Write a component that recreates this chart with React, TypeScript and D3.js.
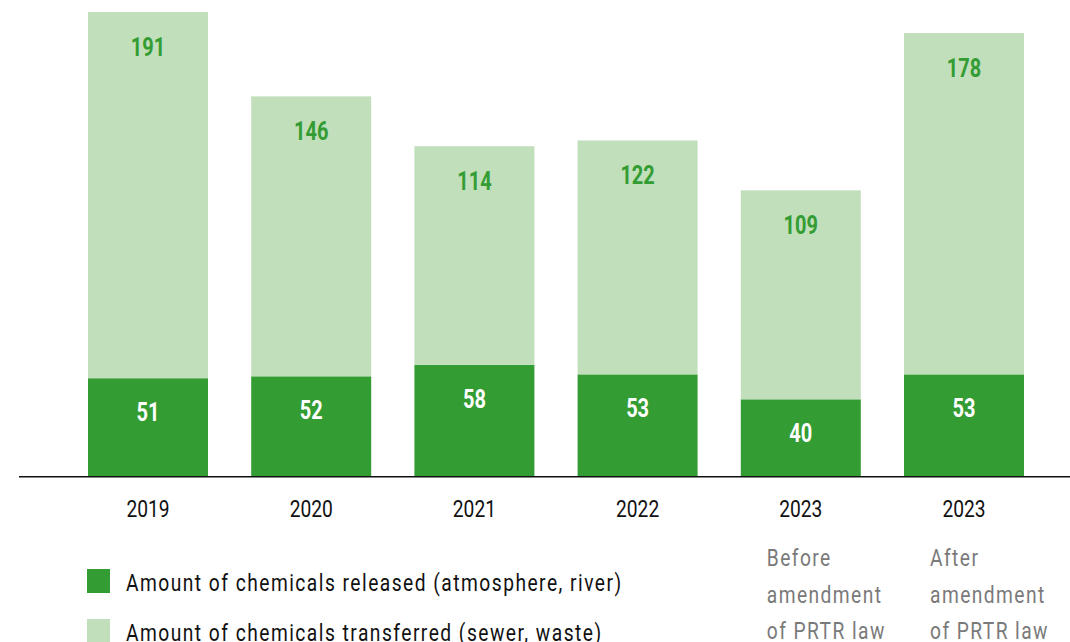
import React from "react";
import * as d3 from "d3";

const categories = ["2019", "2020", "2021", "2022", "2023", "2023b"];
const yearLabels = ["2019", "2020", "2021", "2022", "2023", "2023"];
const released = [51, 52, 58, 53, 40, 53];
const transferred = [191, 146, 114, 122, 109, 178];
const notes: { cat: string; lines: string[] }[] = [
  { cat: "2023", lines: ["Before", "amendment", "of PRTR law"] },
  { cat: "2023b", lines: ["After", "amendment", "of PRTR law"] },
];
const legendItems = [
  "Amount of chemicals released (atmosphere, river)",
  "Amount of chemicals transferred (sewer, waste)",
];

const W = 1070;
const H = 642;
const DARK = "#339c33";
const LIGHT = "#c1dfbb";
const FONT = "Roboto, 'DejaVu Sans Condensed', sans-serif";
const SX = 0.8;

function T(props: {
  x: number;
  y: number;
  anchor?: "start" | "middle" | "end";
  size: number;
  weight?: string | number;
  fill: string;
  ls?: number;
  sx?: number;
  children: React.ReactNode;
}) {
  return (
    <g transform={`translate(${props.x},${props.y}) scale(${props.sx || SX},1)`}>
      <text
        x={0}
        y={0}
        textAnchor={props.anchor || "start"}
        fontSize={props.size}
        fontWeight={props.weight || "normal"}
        letterSpacing={props.ls || 0}
        fill={props.fill}
      >
        {props.children}
      </text>
    </g>
  );
}

export default function App() {
  const x = d3
    .scaleBand<string>()
    .domain(categories)
    .range([88, 1024])
    .paddingInner(0.2647)
    .paddingOuter(0);
  const baseY = 476;
  const y = d3.scaleLinear().domain([0, 242]).range([baseY, 12]);
  const bw = x.bandwidth();
  const colors = [DARK, LIGHT];

  return (
    <svg
      width={W}
      height={H}
      style={{ position: "absolute", left: 0, top: 0, fontFamily: FONT }}
    >
      {categories.map((c, i) => {
        const x0 = x(c)!;
        const r = released[i];
        const t = transferred[i];
        return (
          <g key={c}>
            <rect x={x0} y={y(r)} width={bw} height={y(0) - y(r)} fill={DARK} />
            <rect x={x0} y={y(r + t)} width={bw} height={y(r) - y(r + t)} fill={LIGHT} />
            <T x={x0 + bw / 2} y={y(r) + 43} anchor="middle" size={25} weight="bold" fill="#ffffff">
              {r}
            </T>
            <T x={x0 + bw / 2} y={y(r + t) + 44} anchor="middle" size={25} weight="bold" fill={DARK}>
              {t}
            </T>
            <T x={x0 + bw / 2} y={517} anchor="middle" size={24} fill="#111111">
              {yearLabels[i]}
            </T>
          </g>
        );
      })}
      <line x1={19} x2={W} y1={baseY + 0.75} y2={baseY + 0.75} stroke="#111" strokeWidth={1.5} />
      {notes.map((n) =>
        n.lines.map((l, j) => (
          <T
            key={n.cat + j}
            x={x(n.cat)! + 26}
            y={566 + j * 36.5}
            size={24}
            ls={1.8}
            fill="#7a7a7a"
          >
            {l}
          </T>
        ))
      )}
      {legendItems.map((l, i) => (
        <g key={l}>
          <rect x={87} y={569 + i * 50} width={23} height={24} fill={colors[i]} />
          <T x={126} y={591 + i * 50} size={24} ls={1.85} fill="#111111">
            {l}
          </T>
        </g>
      ))}
    </svg>
  );
}
